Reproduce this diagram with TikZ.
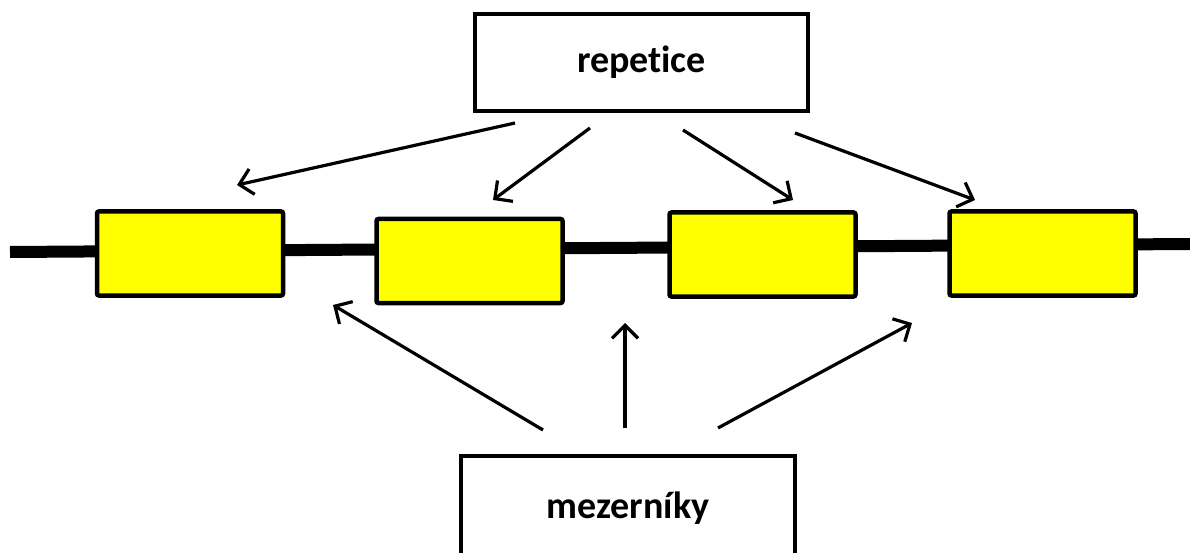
\documentclass[tikz,border=0pt]{standalone}
\usepackage{fontspec}
\setmainfont{Carlito}[RawFeature={-liga;-clig;-dlig}]
\usetikzlibrary{arrows.meta}
\definecolor{geneyellow}{RGB}{255,255,0}
\begin{document}
\begin{tikzpicture}[x=1pt,y=-1pt,
  label box/.style={draw=black,line width=4pt,fill=white,inner sep=0pt,font=\bfseries\fontsize{38}{44}\selectfont},
  gene/.style={draw=black,line width=4.5pt,fill=geneyellow,rounded corners=2pt,inner sep=0pt,minimum width=186pt,minimum height=84pt},
  conn/.style={line width=3.2pt,-{Straight Barb[length=13pt,width=26pt,line width=3.2pt]}}]
\useasboundingbox (0,0) rectangle (1190,553);
\clip (0,0) rectangle (1190,553);
% chromosome line
\coordinate (L) at (10,252);
\coordinate (R) at (1190,244);
\draw[line width=12pt] (L) -- (R);
% genes
\node[gene] (g1) at (190,253.5) {};
\node[gene] (g2) at (469.5,261) {};
\node[gene] (g3) at (762.5,254.5) {};
\node[gene] (g4) at (1042.5,253.5) {};
% label boxes
\node[label box,minimum width=333pt,minimum height=97pt] (rep) at (641.5,62.5) {repet\kern0pt ice};
\node[label box,minimum width=334pt,minimum height=104pt] (mez) at (628,508) {mezerníky};
% arrow endpoints
\coordinate (r1s) at (515,123); \coordinate (r1e) at (237,185);
\coordinate (r2s) at (590,128); \coordinate (r2e) at (493,200);
\coordinate (r3s) at (683,130); \coordinate (r3e) at (793,200);
\coordinate (r4s) at (795,133); \coordinate (r4e) at (975,200);
\coordinate (m1s) at (543,430); \coordinate (m1e) at (333,305);
\coordinate (m2s) at (625,428); \coordinate (m2e) at (625,323);
\coordinate (m3s) at (718,428); \coordinate (m3e) at (912,323);
\draw[conn] (r1s) -- (r1e);
\draw[conn] (r2s) -- (r2e);
\draw[conn] (r3s) -- (r3e);
\draw[conn] (r4s) -- (r4e);
\draw[conn] (m1s) -- (m1e);
\draw[conn] (m2s) -- (m2e);
\draw[conn] (m3s) -- (m3e);
\end{tikzpicture}
\end{document}
